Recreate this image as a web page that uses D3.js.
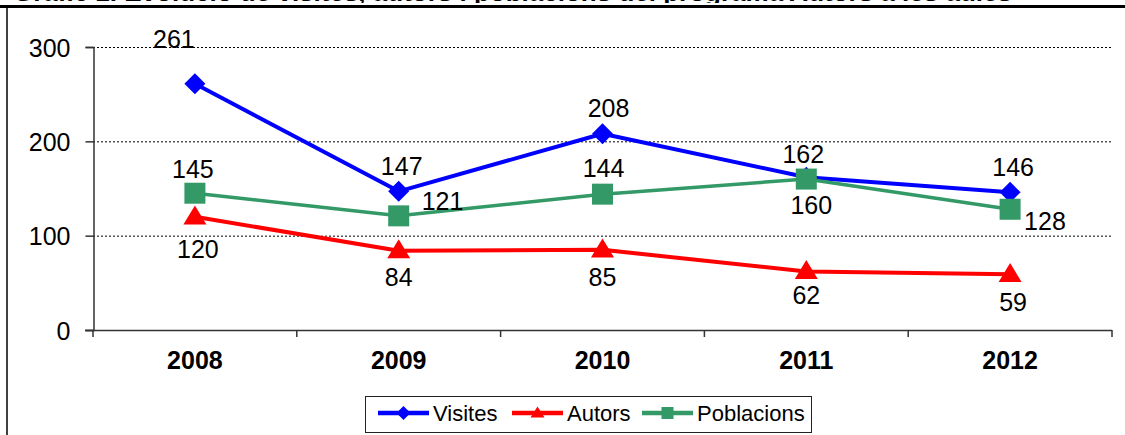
<!DOCTYPE html>
<html>
<head>
<meta charset="utf-8">
<script src="https://cdn.jsdelivr.net/npm/d3@7"></script>
<style>
  html, body { margin: 0; padding: 0; background: #fff; }
  svg { display: block; }
  text { font-family: "Liberation Sans", Arial, sans-serif; fill: #000; }
</style>
</head>
<body>
<svg id="chart" width="1125" height="435"></svg>
<script>
// ---- data ----
const years = ["2008", "2009", "2010", "2011", "2012"];
const visites = [261, 147, 208, 162, 146];
const autors = [120, 84, 85, 62, 59];
const poblacions = [145, 121, 144, 160, 128];
const yTicks = [0, 100, 200, 300];
const seriesNames = ["Visites", "Autors", "Poblacions"];
const titleText = "Gràfic 1. Evolució de visites, autors i poblacions del programa Autors a les aules";

// ---- label placement (offset of each value label from its marker) ----
const visitesLabelOffsets = [[-21, -36, "middle"], [3, -16, "middle"], [6, -17, "middle"], [-3, -14, "middle"], [3, -16, "middle"]];
const autorsLabelOffsets = [[3, 41, "middle"], [0, 35, "middle"], [0, 36, "middle"], [0, 32, "middle"], [3, 37, "middle"]];
const poblacionsLabelOffsets = [[-2, -15, "middle"], [23, -6, "start"], [1, -17, "middle"], [5, 35, "middle"], [14, 21, "start"]];

const svg = d3.select("#chart");

// ---- frame and heading (runs off the top edge) ----
svg.append("text")
  .attr("x", 13).attr("y", 0.8)
  .attr("font-size", 26).attr("font-weight", "bold")
  .text(titleText);
svg.append("rect").attr("x", 0).attr("y", 3).attr("width", 1125).attr("height", 5).attr("fill", "#fff");
svg.append("line").attr("x1", 0).attr("x2", 1125).attr("y1", 6.5).attr("y2", 6.5)
  .attr("stroke", "#000").attr("stroke-width", 3);
svg.append("line").attr("x1", 7).attr("x2", 7).attr("y1", 8).attr("y2", 435)
  .attr("stroke", "#000").attr("stroke-width", 1.5);

// ---- scales ----
const x = d3.scaleBand().domain(years).range([93, 1112]).paddingInner(0).paddingOuter(0);
const cx = d => x(d) + x.bandwidth() / 2;
const y = d3.scaleLinear().domain([0, 300]).range([330, 47]);

// ---- gridlines ----
svg.append("g").selectAll("line")
  .data(yTicks.filter(t => t > 0))
  .join("line")
  .attr("x1", 93).attr("x2", 1112)
  .attr("y1", d => y(d) + 0.5).attr("y2", d => y(d) + 0.5)
  .attr("stroke", "#000").attr("stroke-width", 1).attr("stroke-dasharray", "2,2");

// ---- y axis ----
const yAxis = svg.append("g").attr("transform", "translate(93.5,0)")
  .call(d3.axisLeft(y).tickValues(yTicks).tickSize(8).tickPadding(15).tickFormat(d3.format("d")));
yAxis.select(".domain").attr("stroke", "#333").attr("stroke-width", 1.5);
yAxis.selectAll(".tick line").attr("stroke", "#333").attr("stroke-width", 1.5);
yAxis.selectAll(".tick text").attr("font-size", 25).attr("font-family", "Liberation Sans, Arial, sans-serif")
  .attr("fill", "#000").attr("dy", "0.36em");

// ---- x axis ----
const xAxisG = svg.append("g");
xAxisG.append("line").attr("x1", 85).attr("x2", 1112).attr("y1", y(0) + 0.5).attr("y2", y(0) + 0.5)
  .attr("stroke", "#333").attr("stroke-width", 1.5);
const boundaries = years.map(d => x(d)).concat([x.range()[1]]);
xAxisG.selectAll("line.bt").data(boundaries).join("line").attr("class", "bt")
  .attr("x1", d => d).attr("x2", d => d)
  .attr("y1", y(0)).attr("y2", y(0) + 7)
  .attr("stroke", "#333").attr("stroke-width", 1.5);
const xLabels = svg.append("g").attr("transform", `translate(0,${y(0)})`)
  .call(d3.axisBottom(x).tickSize(0).tickPadding(21));
xLabels.select(".domain").remove();
xLabels.selectAll(".tick text").attr("font-size", 25).attr("font-weight", "bold")
  .attr("font-family", "Liberation Sans, Arial, sans-serif").attr("fill", "#000");

// ---- marker shapes ----
const diamond = r => `M0,${-r}L${r},0L0,${r}L${-r},0Z`;
const square = s => `M${-s / 2},${-s / 2}h${s}v${s}h${-s}Z`;
const triangle = (w, h) => `M0,${-h * 0.6}L${w / 2},${h * 0.4}L${-w / 2},${h * 0.4}Z`;

const series = [
  { name: seriesNames[0], values: visites, color: "#0000ff", width: 4, marker: diamond(10.5), legendMarker: diamond(7), offsets: visitesLabelOffsets },
  { name: seriesNames[1], values: autors, color: "#ff0000", width: 4, marker: triangle(23, 19), legendMarker: triangle(14, 11), offsets: autorsLabelOffsets },
  { name: seriesNames[2], values: poblacions, color: "#339966", width: 3.5, marker: square(21), legendMarker: square(12), offsets: poblacionsLabelOffsets }
];

const line = d3.line().x((d, i) => cx(years[i])).y(d => y(d));

series.forEach(s => {
  const g = svg.append("g");
  g.append("path").datum(s.values)
    .attr("d", line).attr("fill", "none")
    .attr("stroke", s.color).attr("stroke-width", s.width).attr("stroke-linejoin", "round");
  g.selectAll("path.m").data(s.values).join("path").attr("class", "m")
    .attr("d", s.marker).attr("fill", s.color)
    .attr("transform", (d, i) => `translate(${cx(years[i])},${y(d)})`);
});

// value labels drawn last so they sit above every line
series.forEach(s => {
  svg.append("g").selectAll("text").data(s.values).join("text")
    .attr("x", (d, i) => cx(years[i]) + s.offsets[i][0])
    .attr("y", (d, i) => y(d) + s.offsets[i][1])
    .attr("text-anchor", (d, i) => s.offsets[i][2])
    .attr("font-size", 25)
    .text(d => d);
});

// ---- legend ----
const legend = svg.append("g");
legend.append("rect").attr("x", 365.5).attr("y", 396.5).attr("width", 446).attr("height", 36)
  .attr("fill", "#fff").attr("stroke", "#222").attr("stroke-width", 1);
const legendX = [378, 512, 642];
series.forEach((s, i) => {
  const g = legend.append("g").attr("transform", `translate(${legendX[i]},413)`);
  g.append("line").attr("x1", 0).attr("x2", 51).attr("y1", 0).attr("y2", 0)
    .attr("stroke", s.color).attr("stroke-width", 4.5);
  g.append("path").attr("d", s.legendMarker).attr("fill", s.color).attr("transform", "translate(25.5,0)");
  g.append("text").attr("x", 55).attr("y", 8).attr("font-size", 22).text(s.name);
});
</script>
</body>
</html>
